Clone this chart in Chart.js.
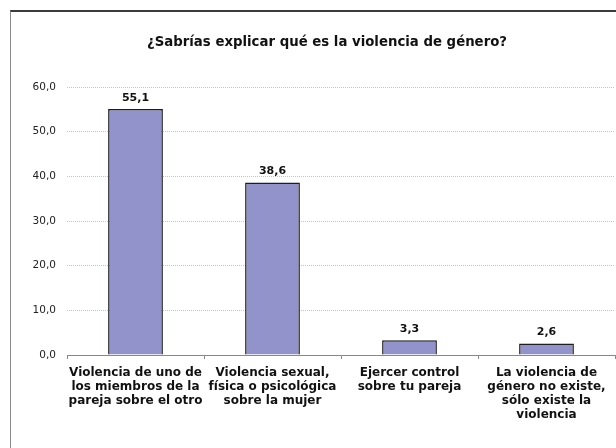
<!DOCTYPE html>
<html lang="es">
<head>
  <meta charset="UTF-8">
  <title>¿Sabrías explicar qué es la violencia de género?</title>
  <script src="https://cdn.jsdelivr.net/npm/chart.js"></script>
  <style>
    html, body { margin: 0; padding: 0; background: #fff; overflow: hidden; }
    .frame {
      position: absolute; left: 10px; top: 10px; width: 700px; height: 500px;
      border-top: 2px solid #3c3c3c; border-left: 1px solid #8a8a8a;
    }
    #chart { position: absolute; left: 0; top: 0; }
  </style>
</head>
<body>
<div class="frame"></div>
<canvas id="chart" width="650" height="448"></canvas>

<script>
  // datos
  const titulo = "¿Sabrías explicar qué es la violencia de género?";
  const categorias = [
    ["Violencia de uno de", "los miembros de la", "pareja sobre el otro"],
    ["Violencia sexual,", "física o psicológica", "sobre la mujer"],
    ["Ejercer control", "sobre tu pareja"],
    ["La violencia de", "género no existe,", "sólo existe la", "violencia"]
  ];
  const porcentajes = [55.1, 38.6, 3.3, 2.6];
  const ejeY = { min: 0, max: 60, paso: 10 };

  const coma = v => Number(v).toFixed(1).replace(".", ",");
  const fuente = "'DejaVu Sans', Verdana, sans-serif";

  // titulo centrado sobre el marco (no sobre el lienzo)
  const tituloMarco = {
    id: "tituloMarco",
    afterDraw(chart) {
      const ctx = chart.ctx;
      ctx.save();
      ctx.font = "bold 13.3px " + fuente;
      ctx.fillStyle = "#111";
      ctx.textAlign = "center";
      ctx.textBaseline = "middle";
      ctx.fillText(titulo, 327, 43);
      ctx.restore();
    }
  };

  // etiquetas encima de cada barra
  const etiquetasBarras = {
    id: "etiquetasBarras",
    afterDatasetsDraw(chart) {
      const ctx = chart.ctx;
      const meta = chart.getDatasetMeta(0);
      ctx.save();
      ctx.font = "bold 11px " + fuente;
      ctx.fillStyle = "#111";
      ctx.textAlign = "center";
      ctx.textBaseline = "middle";
      meta.data.forEach((bar, i) => {
        ctx.fillText(coma(porcentajes[i]), bar.x, bar.y - 11);
      });
      ctx.restore();
    }
  };

  new Chart(document.getElementById("chart"), {
    type: "bar",
    data: {
      labels: categorias,
      datasets: [{
        data: porcentajes,
        backgroundColor: "#9393cb",
        borderColor: "#1e1e1e",
        borderWidth: 1.5,
        categoryPercentage: 1.0,
        barPercentage: 0.4
      }]
    },
    options: {
      responsive: false,
      animation: false,
      layout: { padding: { left: 20, right: 35, top: 87, bottom: 0 } },
      plugins: {
        legend: { display: false },
        tooltip: { enabled: false },
        title: { display: false }
      },
      scales: {
        x: {
          grid: { offset: true, drawOnChartArea: false, drawTicks: true, tickLength: 4, color: "#888" },
          border: { display: true, color: "#888", width: 1 },
          ticks: {
            color: "#111",
            padding: 7,
            maxRotation: 0,
            autoSkip: false,
            font: { family: fuente, size: 12, weight: "bold", lineHeight: "14px" }
          },
          afterFit(scale) { scale.height = 93; }
        },
        y: {
          min: ejeY.min,
          max: ejeY.max,
          grid: { drawTicks: false, color: "#c4c4c4" },
          border: { display: false, dash: [1, 1] },
          ticks: {
            stepSize: ejeY.paso,
            padding: 11,
            color: "#222",
            font: { family: fuente, size: 10.5 },
            callback: (v, i, ticks) => coma(ticks[i].value)
          },
          afterFit(scale) { scale.width = 47; }
        }
      }
    },
    plugins: [etiquetasBarras, tituloMarco]
  });
</script>
</body>
</html>
